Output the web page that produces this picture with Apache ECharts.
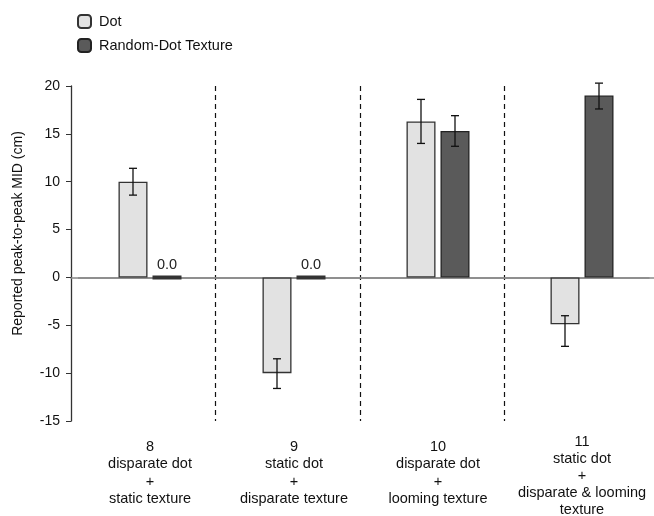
<!DOCTYPE html>
<html><head><meta charset="utf-8">
<script src="https://cdn.jsdelivr.net/npm/echarts@6/dist/echarts.min.js"></script>
<style>html,body{margin:0;padding:0;background:#fff}#c{width:654px;height:516px}</style>
</head><body><div id="c"></div>
<script>
const categories = ['8\ndisparate dot\n+\nstatic texture', '9\nstatic dot\n+\ndisparate texture', '10\ndisparate dot\n+\nlooming texture', '11\nstatic dot\n+\ndisparate & looming\ntexture'];
const seriesNames = ['Dot', 'Random-Dot Texture'];
const dotValues = [10.0, -10.0, 16.3, -4.9];
const texValues = [0.0, 0.0, 15.3, 19.0];
const dotErrLow = [8.6, -11.6, 14.0, -7.2];
const dotErrHigh = [11.4, -8.5, 18.6, -4.0];
const texErrLow = [null, null, 13.7, 17.6];
const texErrHigh = [null, null, 16.9, 20.3];
const yTicks = {min: -15, max: 20, interval: 5};

const BAR_W = 29, BAR_GAP = 5;
const FONT = 'Liberation Sans, Arial, sans-serif';
const FS = 14.5;

function errSeries(low, high, side) {
  return {
    type: 'custom', xAxisIndex: 1, yAxisIndex: 1, silent: true, z: 10,
    data: low.map((l, i) => [i, l, high[i]]).filter(d => d[1] !== null),
    renderItem: function (params, api) {
      const i = api.value(0);
      const c1 = api.coord([i, api.value(1)]);
      const c2 = api.coord([i, api.value(2)]);
      const x = c1[0] + side * (BAR_W + BAR_GAP) / 2;
      const cap = 4;
      const st = {stroke: '#111', lineWidth: 1.3};
      return {type: 'group', children: [
        {type: 'line', shape: {x1: x, y1: c1[1], x2: x, y2: c2[1]}, style: st},
        {type: 'line', shape: {x1: x - cap, y1: c1[1], x2: x + cap, y2: c1[1]}, style: st},
        {type: 'line', shape: {x1: x - cap, y1: c2[1], x2: x + cap, y2: c2[1]}, style: st}
      ]};
    }
  };
}

const labelData = categories.map(function (c) {
  const lines = c.split('\n').length;
  return lines > 4 ? {value: c, textStyle: {padding: [-5, 0, 0, 0], lineHeight: 17}} : c;
});

const chart = echarts.init(document.getElementById('c'));
chart.setOption({
  animation: false,
  textStyle: {fontFamily: FONT},
  legend: {
    orient: 'vertical', left: 72, top: 9, itemWidth: 13, itemHeight: 13, itemGap: 9,
    data: seriesNames,
    textStyle: {fontSize: FS, color: '#111', fontFamily: FONT, padding: [0, 0, 0, 3]}
  },
  grid: [
    {left: 71, right: 5, top: 86, bottom: 95, outerBoundsMode: 'none', containLabel: false},
    {left: 78, right: 0, top: 86, bottom: 95, outerBoundsMode: 'none', containLabel: false}
  ],
  xAxis: [
    {type: 'category', gridIndex: 0, data: categories,
     axisLine: {onZero: true, lineStyle: {color: '#888', width: 1.5}},
     axisTick: {show: false}, axisLabel: {show: false},
     splitLine: {show: true, lineStyle: {type: [5, 4], color: ['rgba(0,0,0,0)', '#111', '#111', '#111', 'rgba(0,0,0,0)'], width: 1.2}}
    },
    {type: 'category', gridIndex: 1, data: labelData,
     axisLine: {show: false}, axisTick: {show: false},
     axisLabel: {interval: 0, color: '#111', fontSize: FS, lineHeight: 17.5, margin: 17, fontFamily: FONT},
     position: 'bottom'
    }
  ],
  yAxis: [
    {type: 'value', gridIndex: 0, min: yTicks.min, max: yTicks.max, interval: yTicks.interval,
     name: 'Reported peak-to-peak MID (cm)', nameLocation: 'middle', nameGap: 46, nameRotate: 90,
     nameTextStyle: {fontSize: 14, color: '#111', padding: [0, 0, 0, 40], fontFamily: FONT},
     axisLine: {show: true, lineStyle: {color: '#333', width: 1.3}},
     axisTick: {show: true, length: 5, lineStyle: {color: '#333'}},
     axisLabel: {color: '#111', fontSize: 14, margin: 11, fontFamily: FONT},
     splitLine: {show: false}
    },
    {type: 'value', gridIndex: 1, min: yTicks.min, max: yTicks.max, interval: yTicks.interval, show: false,
     splitLine: {show: false}}
  ],
  series: [
    {name: seriesNames[0], type: 'bar', xAxisIndex: 1, yAxisIndex: 1, barWidth: BAR_W, barGap: (BAR_GAP / BAR_W * 100) + '%',
     data: dotValues,
     itemStyle: {color: '#e2e2e2', borderColor: '#333', borderWidth: 1.3},
     markLine: {silent: true, symbol: 'none', label: {show: false}, z: 1,
                lineStyle: {color: '#888', width: 1.5, type: 'solid'},
                data: [{yAxis: 0}]}},
    {name: seriesNames[1], type: 'bar', xAxisIndex: 1, yAxisIndex: 1, barWidth: BAR_W,
     data: texValues.map(v => v === 0 ? {value: v, label: {show: true}, itemStyle: {borderWidth: 4, borderColor: '#333'}} : v),
     label: {show: false, position: 'top', distance: 3, color: '#222', fontSize: FS, fontFamily: FONT,
             formatter: p => p.value.toFixed(1)},
     itemStyle: {color: '#5a5a5a', borderColor: '#222', borderWidth: 1.3}},
    errSeries(dotErrLow, dotErrHigh, -1),
    errSeries(texErrLow, texErrHigh, 1)
  ]
});
</script></body></html>
